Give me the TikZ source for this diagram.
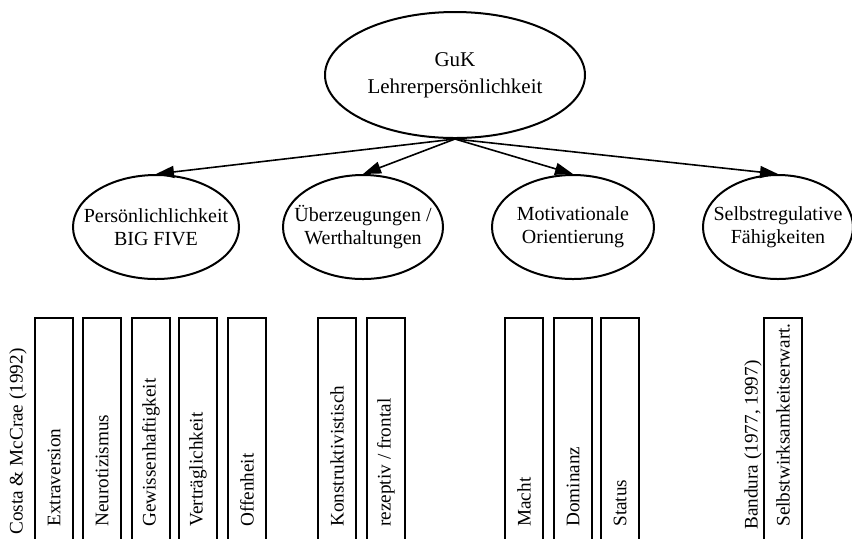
\documentclass[tikz,border=0pt]{standalone}
\usepackage{fontspec}
\setmainfont{Liberation Serif}
\usetikzlibrary{shapes.geometric, arrows.meta}

\tikzset{
  oval/.style={draw, ellipse, line width=1pt, inner sep=-20pt, align=center, font=\fontsize{10}{11.5}\selectfont},
  vbox/.style={draw, anchor=north, line width=1pt, minimum width=19pt, minimum height=125pt, inner sep=0pt},
  vlabel/.style={rotate=90, anchor=west, inner sep=0pt, font=\fontsize{9.6}{11}\selectfont},
  link/.style={-{Triangle[length=9pt, width=6pt]}, line width=0.8pt}
}

\begin{document}
\begin{tikzpicture}[x=0.5pt, y=-0.5pt]
  \useasboundingbox (0,0) rectangle (852,538);
  \clip (0,0) rectangle (852,538);

  % top node
  \node[oval, minimum width=130pt, minimum height=63pt, font=\fontsize{10.5}{13.5}\selectfont] (guk) at (455,75) {GuK\\Lehrerpersönlichkeit};

  % the four facets
  \node[oval, minimum width=83pt, minimum height=52pt] (pers) at (156,227) {Persönlichlichkeit\\BIG FIVE};
  \node[oval, minimum width=80pt, minimum height=52pt] (ueber) at (363,227) {Überzeugungen /\\Werthaltungen};
  \node[oval, minimum width=81pt, minimum height=52pt] (motiv) at (573,227) {Motivationale\\Orientierung};
  \node[oval, minimum width=75pt, minimum height=52pt] (selbst) at (778,227) {Selbstregulative\\Fähigkeiten};

  \foreach \n in {pers, ueber, motiv, selbst}
    \draw[link] (guk.south) -- (\n.north);

  % sources
  \node[vlabel] (costa) at (18,535) {Costa \& McCrae (1992)};
  \node[vlabel] (bandura) at (753,530) {Bandura (1977, 1997)};

  % columns
  \foreach \xc/\nm/\txt in {54/extra/Extraversion, 102/neuro/Neurotizismus, 151/gewiss/Gewissenhaftigkeit,
      198/vertr/Verträglichkeit, 247/offen/Offenheit, 337/konstr/Konstruktivistisch,
      386/rezep/{rezeptiv / frontal}, 524/macht/Macht, 573/domin/Dominanz, 620/status/Status,
      783/swe/Selbstwirksamkeitserwart.}{
    \node[vbox] (\nm) at (\xc,317) {};
    \node[vlabel] (\nm-txt) at (\xc,527) {\txt};
  }
\end{tikzpicture}
\end{document}
